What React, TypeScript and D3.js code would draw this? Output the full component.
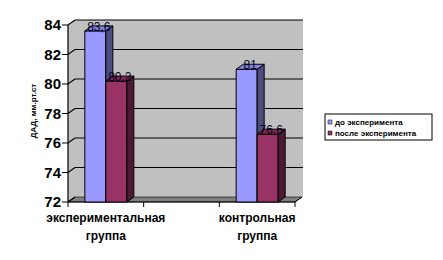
import React from "react";
import * as d3 from "d3";

const categories = ["экспериментальная группа", "", "контрольная группа"];
const seriesNames = ["до эксперимента", "после эксперимента"];
const before: (number | null)[] = [83.6, null, 81];
const after: (number | null)[] = [80.2, null, 76.6];
const valueLabels: (string | null)[][] = [["83,6", null, "81"], ["80,2", null, "76,6"]];
const yTicks = [72, 74, 76, 78, 80, 82, 84];
const yTitle = "ДАД, мм.рт.ст";

const fronts = ["#9999FF", "#993366"];
const sides = ["#4D4D80", "#4D1A33"];
const tops = ["#8484E0", "#80294F"];

export default function App() {
  const W = 443, H = 260;
  const left = 68, right = 295, top = 25, bottom = 202;
  const dx = 7, dy = -5;
  const y = d3.scaleLinear().domain([72, 84]).range([bottom, top]);
  const x = d3.scaleBand<number>().domain(categories.map((_, i) => i)).range([left, right]).paddingInner(0).paddingOuter(0);
  const bw = x.bandwidth();
  const groupW = 42;
  const xs = d3.scaleBand<number>().domain([0, 1]).range([0, groupW]).padding(0);
  const series = [before, after];
  const font = "Arial, 'Liberation Sans', sans-serif";

  const bars: React.ReactNode[] = [];
  const labels: React.ReactNode[] = [];
  categories.forEach((_, ci) => {
    series.forEach((s, si) => {
      const v = s[ci];
      if (v == null) return;
      const x0 = (x(ci) as number) + (bw - groupW) / 2 + (xs(si) as number);
      const w = xs.bandwidth();
      const yt = y(v);
      const yb = y(72);
      bars.push(
        <g key={`b${ci}-${si}`} stroke="#000" strokeWidth={1} strokeLinejoin="round">
          <rect x={x0} y={yt} width={w} height={yb - yt} fill={fronts[si]} />
          <polygon points={`${x0 + w},${yt} ${x0 + w + dx},${yt + dy} ${x0 + w + dx},${yb + dy} ${x0 + w},${yb}`} fill={sides[si]} />
          <polygon points={`${x0},${yt} ${x0 + dx},${yt + dy} ${x0 + w + dx},${yt + dy} ${x0 + w},${yt}`} fill={tops[si]} />
        </g>
      );
      labels.push(
        <text key={`l${ci}-${si}`} x={x0 + w / 2 + dx / 2} y={yt} textAnchor="middle" fontSize={12} fontFamily={font} fill="#000020">
          {valueLabels[si][ci]}
        </text>
      );
    });
  });

  return (
    <svg width={W} height={H} style={{ position: "absolute", left: 0, top: 0 }}>
      <rect width={W} height={H} fill="#fff" />
      <rect x={left + dx} y={top + dy} width={right + dx + 1 - (left + dx)} height={bottom - top} fill="#C0C0C0" />
      <polygon points={`${left},${top} ${left + dx},${top + dy} ${left + dx},${bottom + dy} ${left},${bottom}`} fill="#C0C0C0" />
      <polygon points={`${left},${bottom} ${left + dx},${bottom + dy} ${right + dx},${bottom + dy} ${right},${bottom}`} fill="#808080" stroke="#000" strokeWidth={0.6} />
      {yTicks.map((t) => (
        <g key={`g${t}`} stroke="#000" strokeWidth={1.2} fill="none">
          {t !== 72 && <line x1={left + dx} x2={right + dx + 1} y1={y(t) + dy} y2={y(t) + dy} />}
          <polyline points={`${left - 6},${y(t)} ${left},${y(t)} ${left + dx},${y(t) + dy}`} />
        </g>
      ))}
      <line x1={left} x2={left} y1={top} y2={bottom} stroke="#000" strokeWidth={1.2} />
      <line x1={left} x2={right} y1={bottom} y2={bottom} stroke="#000" strokeWidth={1.2} />
      {categories.map((_, i) => (
        <line key={`xt${i}`} x1={x(i) as number} x2={x(i) as number} y1={bottom} y2={bottom + 5} stroke="#000" />
      ))}
      <line x1={right} x2={right} y1={bottom} y2={bottom + 5} stroke="#000" />
      <line x1={right} x2={right + dx} y1={bottom} y2={bottom + dy} stroke="#000" />
      {bars}
      {labels}
      {yTicks.map((t) => (
        <text key={`yt${t}`} x={61} y={y(t) + 5} textAnchor="end" fontSize={15} fontWeight="bold" fontFamily={font}>
          {t}
        </text>
      ))}
      <text transform={`translate(36,111) rotate(-90)`} textAnchor="middle" fontSize={8} fontWeight="bold" fontFamily={font}>
        {yTitle}
      </text>
      {categories.map((c, i) => {
        if (!c) return null;
        const cx = (x(i) as number) + bw / 2;
        const parts = c.split(" ");
        return (
          <text key={`xl${i}`} textAnchor="middle" fontSize={12} fontWeight="bold" fontFamily={font}>
            <tspan x={cx} y={222}>{parts[0]}</tspan>
            <tspan x={cx} y={240}>{parts[1]}</tspan>
          </text>
        );
      })}
      <rect x={325} y={114} width={107} height={26} fill="#fff" stroke="#000" strokeWidth={1} />
      {seriesNames.map((n, i) => (
        <g key={`lg${i}`}>
          <rect x={328} y={120 + i * 11} width={4} height={4} fill={fronts[i]} stroke="#000" strokeWidth={0.5} />
          <text x={335} y={125 + i * 11} fontSize={8} fontWeight="bold" fontFamily={font}>{n}</text>
        </g>
      ))}
    </svg>
  );
}
